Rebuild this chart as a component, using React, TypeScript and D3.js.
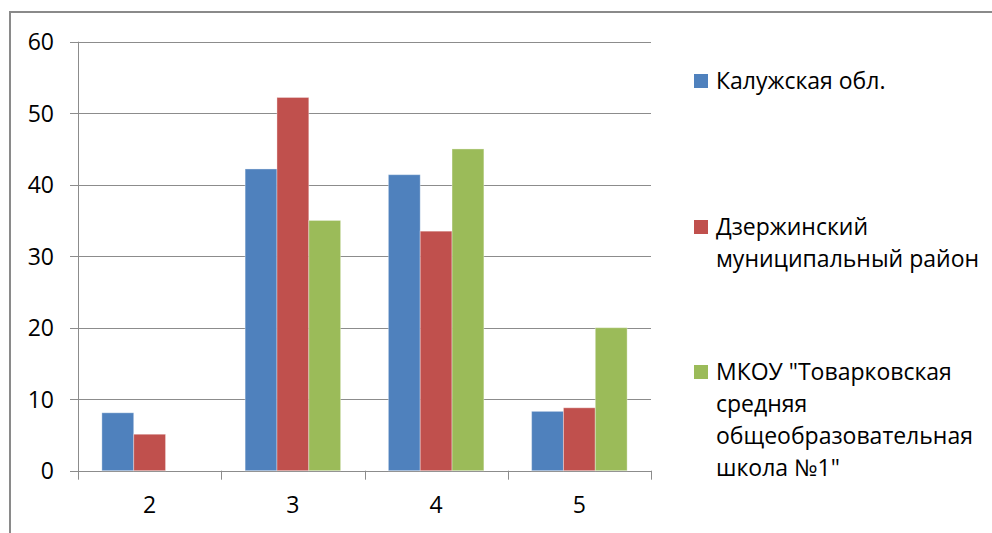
import React from "react";
import * as d3 from "d3";

const categories = ["2", "3", "4", "5"];
const seriesNames = [
  ["Калужская обл."],
  ["Дзержинский", "муниципальный район"],
  ["МКОУ \"Товарковская", "средняя", "общеобразовательная", "школа №1\""],
];
const kaluga = [8.1, 42.2, 41.4, 8.3];
const dzerzhinsky = [5.1, 52.2, 33.5, 8.8];
const mkou = [0, 35, 45, 20];
const yTicks = [0, 10, 20, 30, 40, 50, 60];
const colors = ["#4F81BD", "#C0504D", "#9BBB59"];

const W = 992;
const H = 533;
const FONT = "'Open Sans', 'Liberation Sans', sans-serif";

export default function App() {
  const series = [kaluga, dzerzhinsky, mkou];
  const left = 78, right = 651, top = 41.7, bottom = 470.7;
  const x = d3.scaleBand<string>().domain(categories).range([left, right]).paddingInner(0).paddingOuter(0);
  const y = d3.scaleLinear().domain([0, 60]).range([bottom, top]);
  const bw = x.bandwidth() / 4.5;
  const gridColor = "#8c8c8c";

  const legendBaselines = [[89], [235, 267], [380, 412, 444, 476]];

  return (
    <svg width={W} height={H} style={{ position: "absolute", left: 0, top: 0, background: "#fff" }}>
      <rect x={10} y={12} width={W} height={H} fill="#fff" stroke="#8a8a8a" strokeWidth={2} />
      {yTicks.map((t) => (
        <g key={t}>
          <line x1={70} x2={right} y1={Math.round(y(t)) + 0.5} y2={Math.round(y(t)) + 0.5} stroke={gridColor} strokeWidth={1} />
          <text x={54} y={y(t) + 8.5} textAnchor="end" fontFamily={FONT} fontSize={23} fill="#000">{t}</text>
        </g>
      ))}
      <line x1={left + 0.5} x2={left + 0.5} y1={top} y2={bottom + 9} stroke={gridColor} />
      {categories.map((c) => (
        <line key={"t" + c} x1={Math.round(x(c)! + x.bandwidth()) + 0.5} x2={Math.round(x(c)! + x.bandwidth()) + 0.5} y1={bottom} y2={bottom + 9} stroke={gridColor} />
      ))}
      {categories.map((c) => (
        <text key={"c" + c} x={x(c)! + x.bandwidth() / 2} y={513} textAnchor="middle" fontFamily={FONT} fontSize={23} fill="#000">{c}</text>
      ))}
      {series.map((vals, si) =>
        vals.map((v, ci) => {
          if (v <= 0) return null;
          const bx = x(categories[ci])! + bw * 0.75 + si * bw;
          return (
            <rect key={si + "-" + ci} x={bx} y={y(v)} width={bw} height={y(0) - y(v)} fill={colors[si]} stroke="rgba(255,255,255,0.35)" strokeWidth={1} />
          );
        })
      )}
      {seriesNames.map((lines, si) => (
        <g key={"l" + si}>
          <rect x={694} y={legendBaselines[si][0] - 15} width={14} height={14} fill={colors[si]} />
          {lines.map((ln, li) => (
            <text key={li} x={716} y={legendBaselines[si][li]} fontFamily={FONT} fontSize={23} fill="#000">{ln}</text>
          ))}
        </g>
      ))}
    </svg>
  );
}
